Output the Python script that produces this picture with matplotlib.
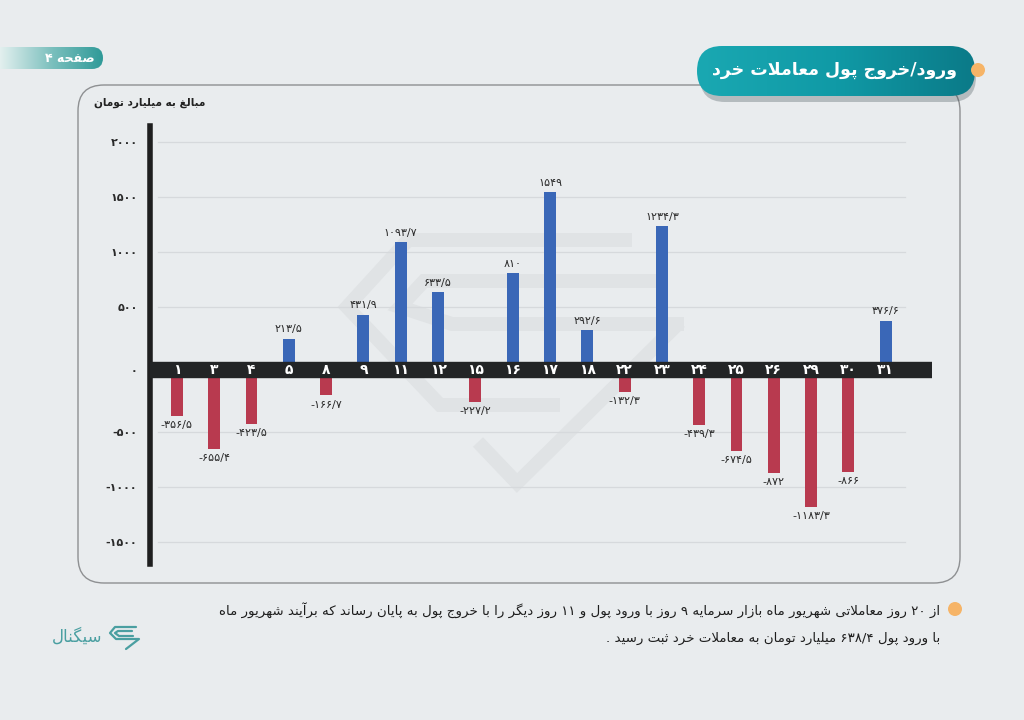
"""Retail money inflow/outflow by trading day (Shahrivar), recreated with matplotlib."""

import re

import matplotlib

matplotlib.use("Agg")
import matplotlib.pyplot as plt
import numpy as np
from matplotlib.colors import LinearSegmentedColormap
from matplotlib.patches import Circle, FancyBboxPatch

W, H = 1024, 720

# ---- data -------------------------------------------------------------
DAYS = [1, 3, 4, 5, 8, 9, 11, 12, 15, 16, 17, 18, 22, 23, 24, 25, 26, 29, 30, 31]
FLOWS = [-356.5, -655.4, -423.5, 213.5, -166.7, 431.9, 1093.7, 633.5, -227.2, 810,
         1549, 292.6, -132.3, 1234.3, -439.3, -674.5, -872, -1183.3, -866, 376.6]
Y_TICKS = [2000, 1500, 1000, 500, 0, -500, -1000, -1500]

TITLE = "ورود/خروج پول معاملات خرد"
PAGE = "صفحه ۴"
UNIT = "مبالغ به میلیارد تومان"
NOTE_1 = ("از ۲۰ روز معاملاتی شهریور ماه بازار سرمایه ۹ روز با ورود پول و ۱۱ روز دیگر "
          "را با خروج پول به پایان رساند که برآیند شهریور ماه")
NOTE_2 = "با ورود پول ۶۳۸/۴ میلیارد تومان به معاملات خرد ثبت رسید ."
BRAND = "سیگنال"

BG = "#e9ecee"
BLUE = "#3a67b7"
RED = "#b83a4f"
BAND = "#232526"
TEAL = "#4a9fa1"
ORANGE = "#f6b467"
FONT = ["DejaVu Sans"]


# ---- minimal arabic shaping + rtl ordering ------------------------------
def _dual(base):
    return tuple(range(base, base + 4))


def _right(base):
    return (base, base + 1)


FORMS = {
    "آ": _right(0xFE81), "ا": _right(0xFE8D), "ب": _dual(0xFE8F), "پ": _dual(0xFB56),
    "ت": _dual(0xFE95), "ث": _dual(0xFE99), "ج": _dual(0xFE9D), "چ": _dual(0xFB7A),
    "ح": _dual(0xFEA1), "خ": _dual(0xFEA5), "د": _right(0xFEA9), "ذ": _right(0xFEAB),
    "ر": _right(0xFEAD), "ز": _right(0xFEAF), "ژ": _right(0xFB8A), "س": _dual(0xFEB1),
    "ش": _dual(0xFEB5), "ص": _dual(0xFEB9), "ض": _dual(0xFEBD), "ط": _dual(0xFEC1),
    "ظ": _dual(0xFEC5), "ع": _dual(0xFEC9), "غ": _dual(0xFECD), "ف": _dual(0xFED1),
    "ق": _dual(0xFED5), "ک": _dual(0xFB8E), "گ": _dual(0xFB92), "ل": _dual(0xFEDD),
    "م": _dual(0xFEE1), "ن": _dual(0xFEE5), "و": _right(0xFEED), "ه": _dual(0xFEE9),
    "ی": _dual(0xFBFC),
}
LAM_ALEF = {"ا": (0xFEFB, 0xFEFC), "آ": (0xFEF5, 0xFEF6)}
NUMBER = r"[0-9۰-۹]+(?:[/.][0-9۰-۹]+)*"


def _joins_next(ch):
    return ch in FORMS and len(FORMS[ch]) == 4


def shape(text):
    out = []
    i = 0
    while i < len(text):
        ch = text[i]
        if ch not in FORMS:
            out.append(ch)
            i += 1
            continue
        prev = text[i - 1] if i > 0 else ""
        nxt = text[i + 1] if i + 1 < len(text) else ""
        joined_prev = _joins_next(prev)
        if ch == "ل" and nxt in LAM_ALEF:
            out.append(chr(LAM_ALEF[nxt][1 if joined_prev else 0]))
            i += 2
            continue
        joined_next = _joins_next(ch) and nxt in FORMS
        forms = FORMS[ch]
        if joined_prev and joined_next:
            out.append(chr(forms[3]))
        elif joined_prev:
            out.append(chr(forms[1]))
        elif joined_next:
            out.append(chr(forms[2]))
        else:
            out.append(chr(forms[0]))
        i += 1
    return "".join(out)


def rtl(text):
    parts = re.split(f"({NUMBER})", shape(text))
    visual = []
    for part in reversed(parts):
        visual.append(part if re.fullmatch(NUMBER, part) else part[::-1])
    return "".join(visual)


def fa_num(value):
    if float(value).is_integer():
        s = str(int(value))
    else:
        s = f"{value:.1f}".replace(".", "/")
    return s.translate(str.maketrans("0123456789", "۰۱۲۳۴۵۶۷۸۹"))


def fig_rect(x0, y0, x1, y1):
    return [x0 / W, 1 - y1 / H, (x1 - x0) / W, (y1 - y0) / H]


# ---- figure / decoration layer -----------------------------------------
fig = plt.figure(figsize=(W / 100, H / 100), dpi=100, facecolor=BG)
deco = fig.add_axes([0, 0, 1, 1])
deco.set_xlim(0, W)
deco.set_ylim(H, 0)
deco.axis("off")

# card outline
deco.add_patch(FancyBboxPatch((78, 85), 882, 498, boxstyle="round,pad=0,rounding_size=26",
                              fc="none", ec="#8e9092", lw=1.0, zorder=1))

# faint watermark behind the bars
wm = dict(color="#e0e3e5", lw=10, solid_joinstyle="miter", solid_capstyle="butt", zorder=1)
deco.plot([632, 408, 347, 440, 560], [240, 240, 307, 405, 405], **wm)
deco.plot([668, 424, 400, 452, 684], [281, 281, 307, 324, 324], **wm)
deco.plot([478, 517, 680], [442, 483, 322], **wm)

# page tab, top-left
tab = FancyBboxPatch((-20, 47), 123, 22, boxstyle="round,pad=0,rounding_size=11",
                     fc="none", ec="none", zorder=2)
deco.add_patch(tab)
tab_cmap = LinearSegmentedColormap.from_list("tab", ["#e3f0ef", "#7cc0be", "#2f9a98"])
img = deco.imshow(np.linspace(0, 1, 256)[None, :], cmap=tab_cmap, aspect="auto",
                  extent=(0, 103, 69, 47), zorder=2)
img.set_clip_path(tab)
deco.text(70, 58, rtl(PAGE), family=FONT, fontsize=9, fontweight="bold",
          color="white", ha="center", va="center", zorder=3)

# title pill with shadow
deco.add_patch(FancyBboxPatch((700, 52), 276, 50, boxstyle="round,pad=0,rounding_size=25",
                              fc="#3a4a50", ec="none", alpha=0.3, zorder=2))
pill = FancyBboxPatch((697, 46), 278, 50, boxstyle="round,pad=0,rounding_size=25",
                      fc="none", ec="none", zorder=3)
deco.add_patch(pill)
pill_cmap = LinearSegmentedColormap.from_list("pill", ["#1aa8b2", "#109aa6", "#0b7a88"])
img = deco.imshow(np.linspace(0, 1, 256)[None, :], cmap=pill_cmap, aspect="auto",
                  extent=(697, 975, 96, 46), zorder=3)
img.set_clip_path(pill)
deco.text(834, 70, rtl(TITLE), family=FONT, fontsize=12.5, fontweight="bold",
          color="white", ha="center", va="center", zorder=4)
deco.add_patch(Circle((978, 70), 7, fc=ORANGE, ec="none", zorder=4))

# unit label
deco.text(205, 103, rtl(UNIT), family=FONT, fontsize=7.6, fontweight="bold",
          color="#222222", ha="right", va="center", zorder=3)

# footnote
deco.add_patch(Circle((955, 609), 7, fc=ORANGE, ec="none", zorder=3))
deco.text(940, 610, rtl(NOTE_1), family=FONT, fontsize=9.6, color="#1e1e1e",
          ha="right", va="center", zorder=3)
deco.text(940, 638, rtl(NOTE_2), family=FONT, fontsize=9.6, color="#1e1e1e",
          ha="right", va="center", zorder=3)

# brand
deco.text(102, 637, rtl(BRAND), family=FONT, fontsize=12, color=TEAL,
          ha="right", va="center", zorder=3)
logo = dict(color=TEAL, lw=1.6, solid_capstyle="round", zorder=3)
deco.plot([136, 115, 110, 116, 139, 126], [627, 627, 633, 639, 639, 649], **logo)
deco.plot([132, 118, 115, 119, 133], [631, 631, 633, 636, 636], **logo)

# ---- chart ---------------------------------------------------------------
ax = fig.add_axes(fig_rect(150, 126, 932, 564))
ax.set_facecolor("none")
GAP = 68  # half-height of the zero band, in data units

x = np.arange(len(DAYS))
flows = np.array(FLOWS, dtype=float)
pos = flows > 0

ax.bar(x[pos], flows[pos], bottom=GAP, width=0.32, color=BLUE, zorder=2)
ax.bar(x[~pos], flows[~pos], bottom=-GAP, width=0.32, color=RED, zorder=2)
ax.axhspan(-GAP, GAP, color=BAND, zorder=3)

for xi, value in zip(x, flows):
    if value > 0:
        ax.annotate(fa_num(value), (xi, value + GAP), xytext=(0, 3), textcoords="offset points",
                    ha="center", va="bottom", family=FONT, fontsize=8, color="#2a2a2a")
    else:
        ax.annotate(fa_num(value), (xi, value - GAP), xytext=(0, -3),
                    textcoords="offset points", ha="center", va="top",
                    family=FONT, fontsize=8, color="#2a2a2a")

for xi, day in zip(x, DAYS):
    ax.text(xi, 0, fa_num(day), ha="center", va="center", family=FONT, fontsize=10,
            fontweight="bold", color="white", zorder=4)

tick_pos = [t + GAP if t > 0 else (t - GAP if t < 0 else 0) for t in Y_TICKS]
for t, p in zip(Y_TICKS, tick_pos):
    if t != 0:
        ax.axhline(p, xmin=0.01, xmax=0.965, color="#d6d9dc", lw=0.9, zorder=1)
ax.set_yticks(tick_pos, [fa_num(t) for t in Y_TICKS], family=FONT, fontweight="bold")
ax.tick_params(axis="y", length=0, pad=9, labelsize=8, labelcolor="#2a2a2a")
ax.set_xticks([])

ax.set_xlim(-0.72, 20.24)
ax.set_ylim(-1768, 2214)
for side in ("top", "right", "bottom"):
    ax.spines[side].set_visible(False)
ax.spines["left"].set_linewidth(4)
ax.spines["left"].set_color("#1f1f1f")

fig.savefig("out.png", dpi=100, facecolor=BG)
